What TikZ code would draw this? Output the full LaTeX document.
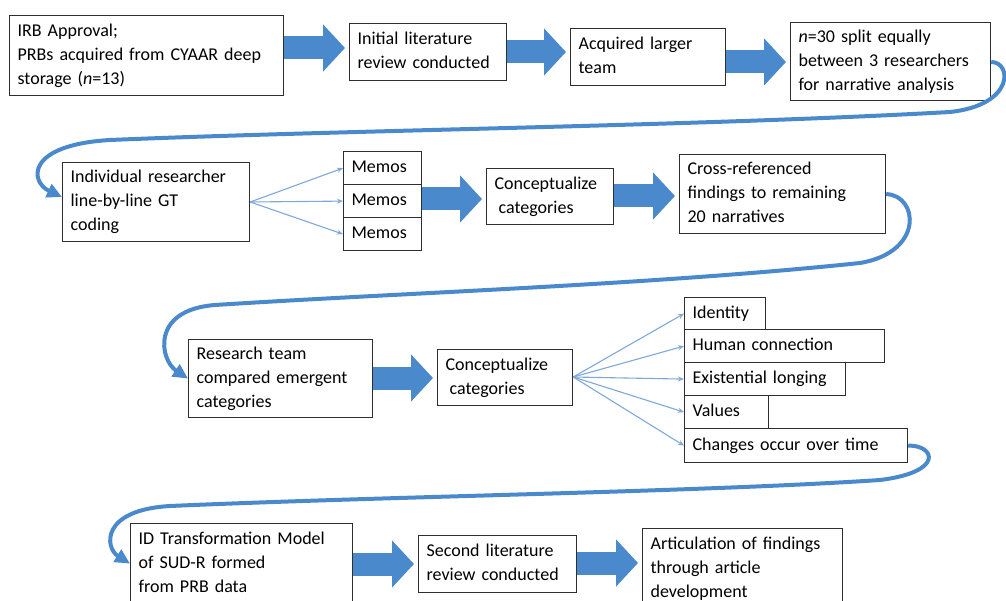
\documentclass[tikz,border=0pt]{standalone}
\usepackage{fontspec}
\setmainfont{Carlito}
\usetikzlibrary{arrows.meta}
\definecolor{bblue}{HTML}{4A89CB}
\definecolor{lblue}{HTML}{7FA8D8}
\definecolor{bord}{HTML}{2E2E2E}
\newcommand\tl[1]{\begin{tabular}{@{}l@{}}#1\end{tabular}}
\tikzset{
 box/.style={draw=bord, line width=1.2pt, fill=white, anchor=north west, inner xsep=8pt, inner ysep=0pt,
   font=\fontsize{18}{24}\selectfont, align=left},
 block/.style={line width=23pt, draw=bblue, -{Triangle[length=22pt,width=46pt]}, shorten >=4pt},
 thin/.style={draw=lblue, line width=1.1pt, -{Stealth[length=6pt,width=5pt]}},
 curvy/.style={draw=bblue, line width=4pt, -{Triangle[length=15pt,width=14pt]}},
}
\begin{document}
\begin{tikzpicture}[x=1pt,y=-1pt]
\path[use as bounding box] (0,0) rectangle (1006,601);
\clip (0,0) rectangle (1006,601);
% row 1
\node[box, text width=258pt, minimum height=80pt] (A) at (9,15) {\tl{IRB Approval;\\PRBs acquired from CYAAR deep\\storage (\textit{n}=13)}};
\node[box, text width=141pt, minimum height=57pt] (B) at (349,23) {\tl{Initial literature\\review conducted}};
\node[box, text width=139pt, minimum height=57pt] (C) at (570,28) {\tl{Acquired larger\\team}};
\node[box, text width=184pt, minimum height=78pt] (D) at (790,22) {\tl{\textit{n}=30 split equally\\between 3 researchers\\for narrative analysis}};
% row 2
\node[box, text width=171pt, minimum height=79pt] (E) at (62,162) {\tl{Individual researcher\\line-by-line GT\\coding}};
\node[box, text width=62pt, minimum height=33pt] (M1) at (343,151) {\tl{Memos}};
\node[box, text width=62pt, minimum height=33pt] (M2) at (343,184) {\tl{Memos}};
\node[box, text width=62pt, minimum height=33pt] (M3) at (343,217) {\tl{Memos}};
\node[box, text width=111pt, minimum height=56pt] (F) at (486,168) {\tl{Conceptualize\\\hspace{4pt}categories}};
\node[box, text width=190pt, minimum height=79pt] (G) at (679,154) {\tl{Cross-referenced\\findings to remaining\\20 narratives}};
% row 3
\node[box, text width=168pt, minimum height=78pt] (H) at (188,339) {\tl{Research team\\compared emergent\\categories}};
\node[box, text width=119pt, minimum height=56pt] (I) at (437,349) {\tl{Conceptualize\\\hspace{4pt}categories}};
\node[box, text width=65pt, minimum height=32pt] (Id) at (684,297) {\tl{Identity}};
\node[box, text width=184pt, minimum height=33pt] (Hu) at (684,329) {\tl{Human connection}};
\node[box, text width=145pt, minimum height=33pt] (Ex) at (684,362) {\tl{Existential longing}};
\node[box, text width=68pt, minimum height=33pt] (Va) at (684,395) {\tl{Values}};
\node[box, text width=207pt, minimum height=34pt] (Ch) at (684,428) {\tl{Changes occur over time}};
% row 4
\node[box, text width=206pt, minimum height=80pt] (J) at (130,523) {\tl{ID Transformation Model\\of SUD-R formed\\from PRB data}};
\node[box, text width=142pt, minimum height=57pt] (K) at (418,535) {\tl{Second literature\\review conducted}};
\node[box, text width=184pt, minimum height=80pt] (L) at (642,528) {\tl{Articulation of findings\\through article\\development}};
% block arrows
\draw[block] (A.east |- 0,48) -- (B.west |- 0,48);
\draw[block] (B.east |- 0,52) -- (C.west |- 0,52);
\draw[block] (C.east |- 0,62) -- (D.west |- 0,62);
\draw[block] (M2.east |- 0,199) -- (F.west |- 0,199);
\draw[block] (F.east |- 0,196) -- (G.west |- 0,196);
\draw[block] (H.east |- 0,378) -- (I.west |- 0,378);
\draw[block] (J.east |- 0,564) -- (K.west |- 0,564);
\draw[block] (K.east |- 0,563) -- (L.west |- 0,563);
% thin arrows
\draw[thin] (E.east |- 0,202) -- (M1.west);
\draw[thin] (E.east |- 0,202) -- (M2.west);
\draw[thin] (E.east |- 0,202) -- (M3.west);
\draw[thin] (I.east |- 0,377) -- (Id.west);
\draw[thin] (I.east |- 0,377) -- (Hu.west);
\draw[thin] (I.east |- 0,377) -- (Ex.west);
\draw[thin] (I.east |- 0,377) -- (Va.west);
\draw[thin] (I.east |- 0,377) -- (Ch.west);
% curved connectors
\draw[curvy] (D.east |- 0,62) .. controls (1012,62) and (1015,105) .. (950,112)
  .. controls (700,126) and (350,130) .. (110,140)
  .. controls (25,145) and (30,182) .. (E.west |- 0,197);
\draw[curvy] (G.east) .. controls (918,195) and (925,252) .. (860,263)
  .. controls (650,285) and (400,293) .. (215,305)
  .. controls (150,310) and (160,360) .. (H.west);
\draw[curvy] (Ch.east) .. controls (935,445) and (945,472) .. (880,480)
  .. controls (700,492) and (400,496) .. (170,506)
  .. controls (100,510) and (105,548) .. (J.west);
\end{tikzpicture}
\end{document}
